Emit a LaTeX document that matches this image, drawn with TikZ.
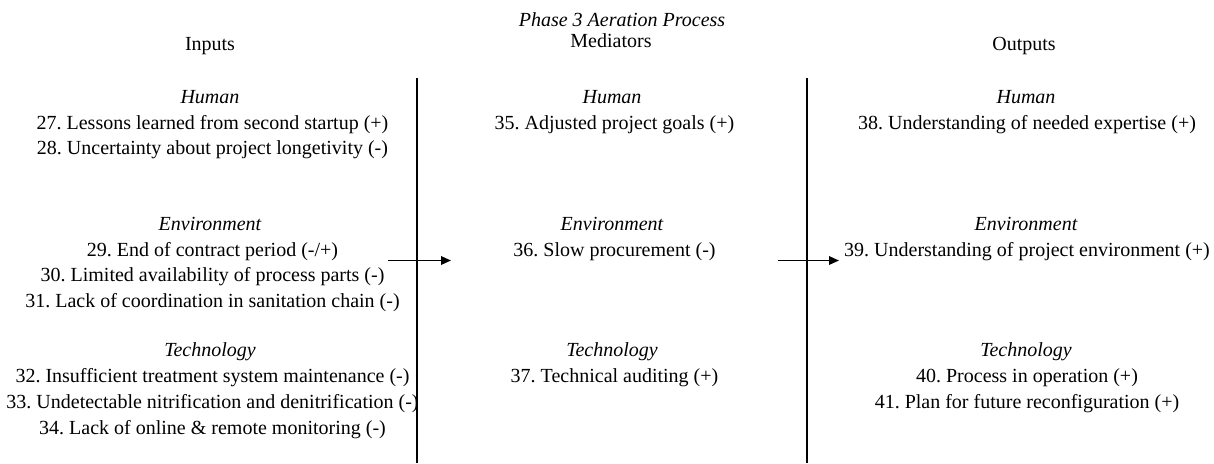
\documentclass[tikz,border=0pt]{standalone}
\usepackage{fontspec}
\setmainfont{Liberation Serif}
\usetikzlibrary{arrows.meta}
\begin{document}
\frenchspacing
\begin{tikzpicture}[x=1pt,y=-1pt,
  txt/.style={inner sep=0pt,anchor=base,font=\fontsize{20}{24}\selectfont},
  cat/.style={txt,font=\fontsize{20}{24}\selectfont\itshape},
  divider/.style={line width=2pt},
  flow/.style={line width=1.7pt,-{Triangle[length=10pt,width=8.5pt]}}]
\useasboundingbox (0,0) rectangle (1214,463);

% headings
\node[txt,font=\fontsize{20}{24}\selectfont\itshape] (title) at (622,26) {Phase 3 Aeration Process};
\node[txt] (hin) at (210,50) {Inputs};
\node[txt] (hmed) at (611,47) {Mediators};
\node[txt] (hout) at (1024,50) {Outputs};

% column dividers
\coordinate (d1t) at (417,78);
\coordinate (d1b) at (417,463);
\coordinate (d2t) at (807,78);
\coordinate (d2b) at (807,463);
\draw[divider] (d1t) -- (d1b);
\draw[divider] (d2t) -- (d2b);

% inputs
\node[cat] (ih) at (210,103) {Human};
\node[txt] (i27) at (212.5,129) {27. Lessons learned from second startup (+)};
\node[txt] (i28) at (212.5,154.5) {28. Uncertainty about project longetivity (-)};
\node[cat] (ie) at (210,230) {Environment};
\node[txt] (i29) at (212.5,256) {29. End of contract period (-/+)};
\node[txt] (i30) at (212.5,281.5) {30. Limited availability of process parts (-)};
\node[txt] (i31) at (212.5,307) {31. Lack of coordination in sanitation chain (-)};
\node[cat] (it) at (210,356) {Technology};
\node[txt] (i32) at (212.5,382) {32. Insufficient treatment system maintenance (-)};
\node[txt] (i33) at (212.5,408) {33. Undetectable nitrification and denitrification (-)};
\node[txt] (i34) at (212.5,434) {34. Lack of online \& remote monitoring (-)};

% mediators
\node[cat] (mh) at (612,103) {Human};
\node[txt] (m35) at (614.5,129) {35. Adjusted project goals (+)};
\node[cat] (me) at (612,230) {Environment};
\node[txt] (m36) at (614.5,256) {36. Slow procurement (-)};
\node[cat] (mt) at (612,356) {Technology};
\node[txt] (m37) at (614.5,382) {37. Technical auditing (+)};

% outputs
\node[cat] (oh) at (1026,103) {Human};
\node[txt] (o38) at (1027,129) {38. Understanding of needed expertise (+)};
\node[cat] (oe) at (1026,230) {Environment};
\node[txt] (o39) at (1027,256) {39. Understanding of project environment (+)};
\node[cat] (ot) at (1026,356) {Technology};
\node[txt] (o40) at (1027,382) {40. Process in operation (+)};
\node[txt] (o41) at (1027,408) {41. Plan for future reconfiguration (+)};

% flow arrows
\coordinate (a1s) at (388,260.5);
\coordinate (a1e) at (451,260.5);
\coordinate (a2s) at (778,260.5);
\coordinate (a2e) at (839,260.5);
\draw[flow] (a1s) -- (a1e);
\draw[flow] (a2s) -- (a2e);
\end{tikzpicture}
\end{document}
